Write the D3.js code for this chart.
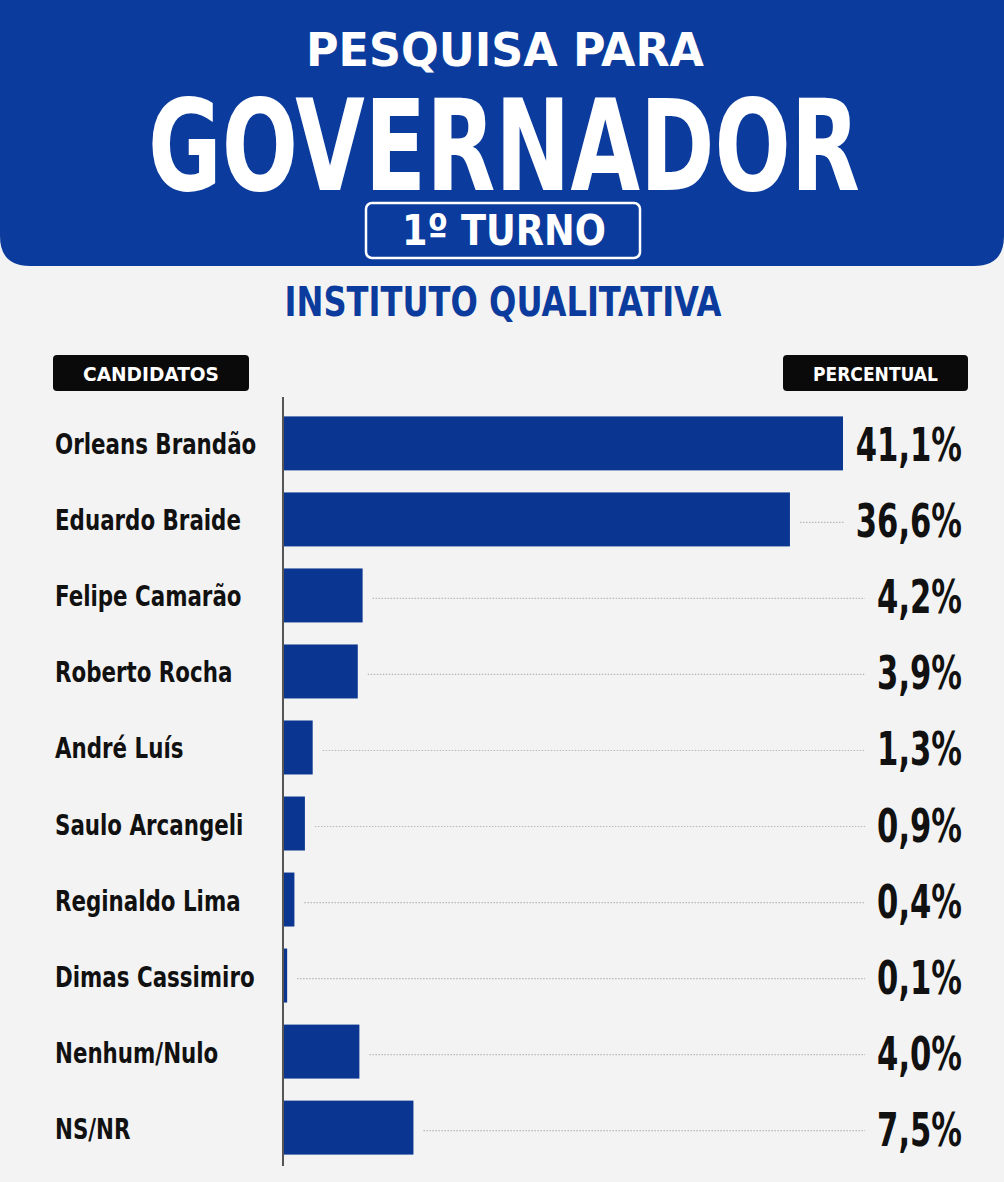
<!DOCTYPE html>
<html>
<head>
<meta charset="utf-8">
<script src="https://cdn.jsdelivr.net/npm/d3@7"></script>
<style>
  html, body { margin: 0; padding: 0; background: #f3f3f3; }
  svg { display: block; }
  text { font-family: "Liberation Sans Narrow", "DejaVu Sans Condensed", "Roboto", sans-serif; font-weight: bold; }
</style>
</head>
<body>
<div id="chart"></div>
<script>
// poll data
var candidatos = ["Orleans Brandão", "Eduardo Braide", "Felipe Camarão", "Roberto Rocha",
    "André Luís", "Saulo Arcangeli", "Reginaldo Lima", "Dimas Cassimiro", "Nenhum/Nulo", "NS/NR"];
var percentual = [41.1, 36.6, 4.2, 3.9, 1.3, 0.9, 0.4, 0.1, 4.0, 7.5];
var rotulos = ["41,1%", "36,6%", "4,2%", "3,9%", "1,3%", "0,9%", "0,4%", "0,1%", "4,0%", "7,5%"];

var W = 1004, H = 1182,
    azul = "#0b3c9d",
    barra = "#0a3591";

var svg = d3.select("#chart").append("svg")
    .attr("width", W).attr("height", H);

svg.append("rect").attr("width", W).attr("height", H).attr("fill", "#f3f3f3");

// header band with rounded bottom corners
var r = 30, hh = 266;
svg.append("path")
    .attr("d", "M0,0H" + W + "V" + (hh - r) + "Q" + W + "," + hh + " " + (W - r) + "," + hh +
        "H" + r + "Q0," + hh + " 0," + (hh - r) + "Z")
    .attr("fill", azul);

svg.append("text").attr("x", 505).attr("y", 66)
    .attr("text-anchor", "middle").attr("fill", "#fff")
    .attr("font-size", 46).attr("textLength", 398).attr("lengthAdjust", "spacingAndGlyphs")
    .text("PESQUISA PARA");

svg.append("text").attr("x", 504).attr("y", 190)
    .attr("text-anchor", "middle").attr("fill", "#fff")
    .attr("font-size", 126).attr("textLength", 712).attr("lengthAdjust", "spacingAndGlyphs")
    .text("GOVERNADOR");

svg.append("rect").attr("x", 366).attr("y", 203).attr("width", 274).attr("height", 55)
    .attr("rx", 6).attr("fill", "none").attr("stroke", "#fff").attr("stroke-width", 2.5);

svg.append("text").attr("x", 504).attr("y", 245)
    .attr("text-anchor", "middle").attr("fill", "#fff")
    .attr("font-size", 43).attr("textLength", 204).attr("lengthAdjust", "spacingAndGlyphs")
    .text("1º TURNO");

svg.append("text").attr("x", 503).attr("y", 316)
    .attr("text-anchor", "middle").attr("fill", azul)
    .attr("font-size", 40).attr("textLength", 437).attr("lengthAdjust", "spacingAndGlyphs")
    .text("INSTITUTO QUALITATIVA");

// column tags
[{ x: 53, w: 196, t: "CANDIDATOS" }, { x: 783, w: 185, t: "PERCENTUAL" }].forEach(function (d) {
    svg.append("rect").attr("x", d.x).attr("y", 355).attr("width", d.w).attr("height", 36)
        .attr("rx", 4).attr("fill", "#0a0a0a");
    svg.append("text").attr("x", d.x + d.w / 2).attr("y", 381)
        .attr("text-anchor", "middle").attr("fill", "#fff")
        .attr("font-size", 20).attr("textLength", d.w - 60).attr("lengthAdjust", "spacingAndGlyphs")
        .text(d.t);
});

// scales
var x0 = 284;
var x = d3.scalePow().exponent(0.86)
    .domain([0, d3.max(percentual)]).range([x0, 843]);
var y = d3.scaleBand().domain(candidatos)
    .range([405, 1166]).paddingInner(0.29).paddingOuter(0.15);
var meio = function (d) { return y(d) + y.bandwidth() / 2; };

var linhas = svg.append("g").selectAll("g")
    .data(candidatos).join("g");

var guia = linhas.append("line")
    .attr("y1", function (d) { return meio(d) + 3; })
    .attr("y2", function (d) { return meio(d) + 3; })
    .attr("stroke", "#b8b8b8").attr("stroke-width", 1.2).attr("stroke-dasharray", "1.5,1.5");

linhas.append("rect")
    .attr("x", x0)
    .attr("y", function (d) { return y(d); })
    .attr("height", y.bandwidth())
    .attr("width", function (d, i) { return x(percentual[i]) - x0; })
    .attr("fill", barra);

// names, narrowed to match the condensed face
linhas.append("text")
    .attr("transform", function (d) { return "translate(55," + (meio(d) + 11) + ") scale(0.82,1)"; })
    .attr("fill", "#111").attr("font-size", 29)
    .text(function (d) { return d; });

var sx = 0.74;
var valores = linhas.append("text")
    .attr("transform", function (d) { return "translate(962," + (meio(d) + 18) + ") scale(" + sx + ",1)"; })
    .attr("text-anchor", "end")
    .attr("fill", "#111").attr("font-size", 46)
    .text(function (d, i) { return rotulos[i]; });

// dotted guide from bar end to the value label
valores.each(function (d, i) {
    var left = 962 - this.getComputedTextLength() * sx - 12,
        start = x(percentual[i]) + 10;
    d3.select(guia.nodes()[i])
        .attr("x1", start).attr("x2", left)
        .attr("display", left - start > 12 ? null : "none");
});

// axis line
svg.append("line").attr("x1", x0 - 1).attr("x2", x0 - 1).attr("y1", 397).attr("y2", 1166)
    .attr("stroke", "#555").attr("stroke-width", 2);
</script>
</body>
</html>
